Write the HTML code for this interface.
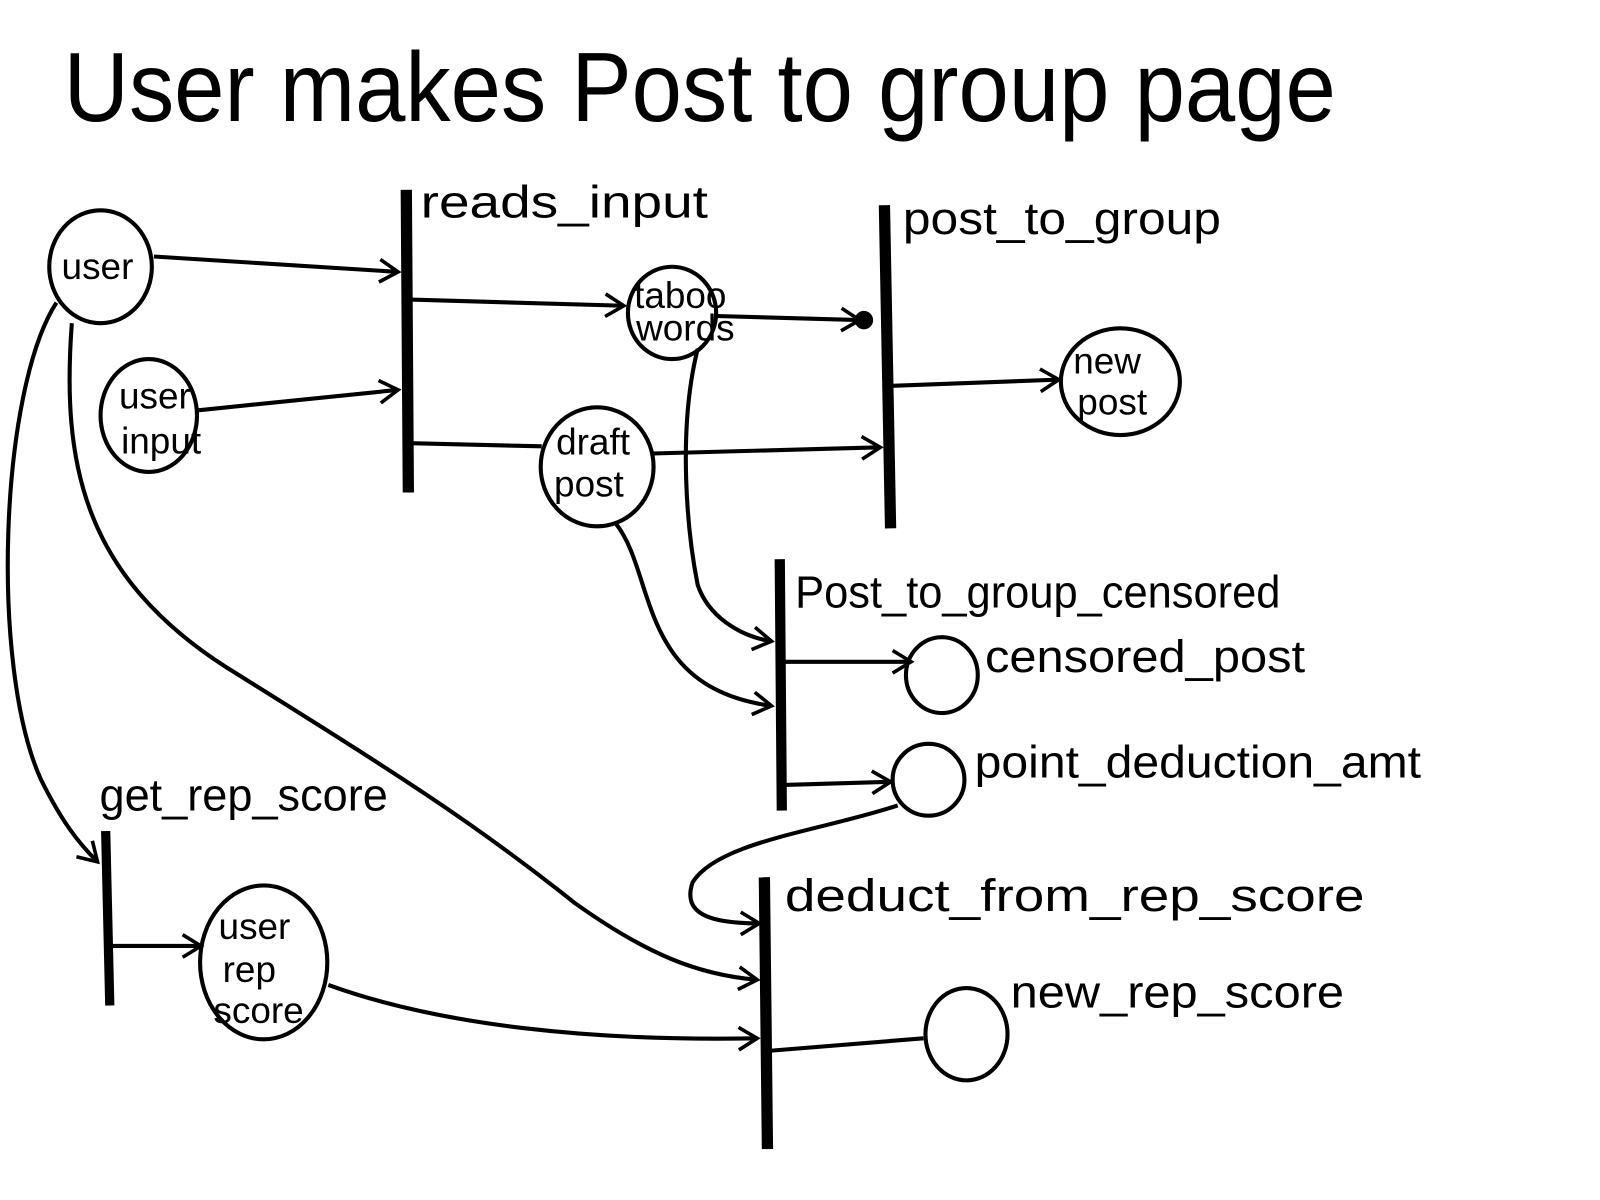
<!DOCTYPE html>
<html><head><meta charset="utf-8"><style>
html,body{margin:0;padding:0;background:#fff;width:1600px;height:1200px;overflow:hidden}
text{font-family:"Liberation Sans",sans-serif;fill:#000}
</style></head><body>
<svg width="1600" height="1200" viewBox="0 0 1600 1200" xmlns="http://www.w3.org/2000/svg">
<defs>
<marker id="a" markerWidth="30" markerHeight="30" refX="22" refY="15" orient="auto" markerUnits="userSpaceOnUse">
<path d="M4,4 L22,15 L4,26" fill="none" stroke="#000" stroke-width="3.5"/>
</marker>
</defs>
<g transform="scale(1.026)">
<text x="62" y="118" font-size="96" textLength="1240" lengthAdjust="spacingAndGlyphs">User makes Post to group page</text>
<g fill="none" stroke="#000" stroke-width="4">
<line x1="396" y1="185" x2="398" y2="480" stroke-width="11"/>
<line x1="862" y1="200" x2="868" y2="515" stroke-width="11"/>
<line x1="760" y1="545" x2="762" y2="790" stroke-width="10"/>
<line x1="103" y1="810" x2="107" y2="980" stroke-width="9"/>
<line x1="745" y1="855" x2="748" y2="1120" stroke-width="11"/>
<ellipse cx="98" cy="260" rx="50" ry="55"/>
<ellipse cx="145" cy="405" rx="47" ry="55"/>
<ellipse cx="655" cy="305" rx="43" ry="45"/>
<ellipse cx="582" cy="455" rx="55" ry="58"/>
<ellipse cx="1092" cy="372" rx="58" ry="52"/>
<ellipse cx="918" cy="658" rx="35" ry="37"/>
<ellipse cx="905" cy="760" rx="35" ry="35"/>
<ellipse cx="257" cy="938" rx="62" ry="75"/>
<ellipse cx="942" cy="1008" rx="40" ry="45"/>
<path d="M150,250 L388,265" marker-end="url(#a)"/>
<path d="M192,400 L388,380" marker-end="url(#a)"/>
<path d="M400,292 L608,298" marker-end="url(#a)"/>
<path d="M400,432 L528,435"/>
<path d="M636,442 L858,436" marker-end="url(#a)"/>
<path d="M698,308 L838,312" marker-end="url(#a)"/>
<path d="M870,376 L1032,370" marker-end="url(#a)"/>
<path d="M680,340 C660,420 670,520 680,570 C690,600 720,620 752,625" marker-end="url(#a)"/>
<path d="M600,510 C640,560 620,670 752,688" marker-end="url(#a)"/>
<path d="M765,645 L888,645" marker-end="url(#a)"/>
<path d="M765,765 L868,762" marker-end="url(#a)"/>
<path d="M875,785 C800,810 700,820 675,860 C665,890 690,900 740,900" marker-end="url(#a)"/>
<path d="M55,295 C0,380 -10,650 40,760 C60,800 75,820 95,840" marker-end="url(#a)"/>
<path d="M70,315 C60,450 80,560 220,650 C380,750 460,800 560,880 C630,930 680,950 738,955" marker-end="url(#a)"/>
<path d="M110,922 L196,922" marker-end="url(#a)"/>
<path d="M320,960 C430,1000 580,1015 738,1012" marker-end="url(#a)"/>
<path d="M752,1024 L900,1012"/>
</g>
<circle cx="842" cy="312" r="9" fill="#000"/>
<g font-size="44" lengthAdjust="spacingAndGlyphs">
<text x="410" y="212" textLength="280" lengthAdjust="spacingAndGlyphs">reads_input</text>
<text x="880" y="228" textLength="310" lengthAdjust="spacingAndGlyphs">post_to_group</text>
<text x="775" y="592" textLength="473" lengthAdjust="spacingAndGlyphs">Post_to_group_censored</text>
<text x="960" y="655" textLength="312" lengthAdjust="spacingAndGlyphs">censored_post</text>
<text x="950" y="758" textLength="435" lengthAdjust="spacingAndGlyphs">point_deduction_amt</text>
<text x="97" y="790" textLength="281" lengthAdjust="spacingAndGlyphs">get_rep_score</text>
<text x="765" y="888" textLength="565" lengthAdjust="spacingAndGlyphs">deduct_from_rep_score</text>
<text x="985" y="982" textLength="325" lengthAdjust="spacingAndGlyphs">new_rep_score</text>
</g>
<g font-size="36">
<text x="60" y="272">user</text>
<text x="116" y="398">user</text>
<text x="118" y="442">input</text>
<text x="618" y="300">taboo</text>
<text x="620" y="332">words</text>
<text x="542" y="443">draft</text>
<text x="540" y="484">post</text>
<text x="1046" y="364">new</text>
<text x="1050" y="404">post</text>
<text x="213" y="915">user</text>
<text x="217" y="957">rep</text>
<text x="208" y="997">score</text>
</g>
</g>
</svg>
</body></html>
